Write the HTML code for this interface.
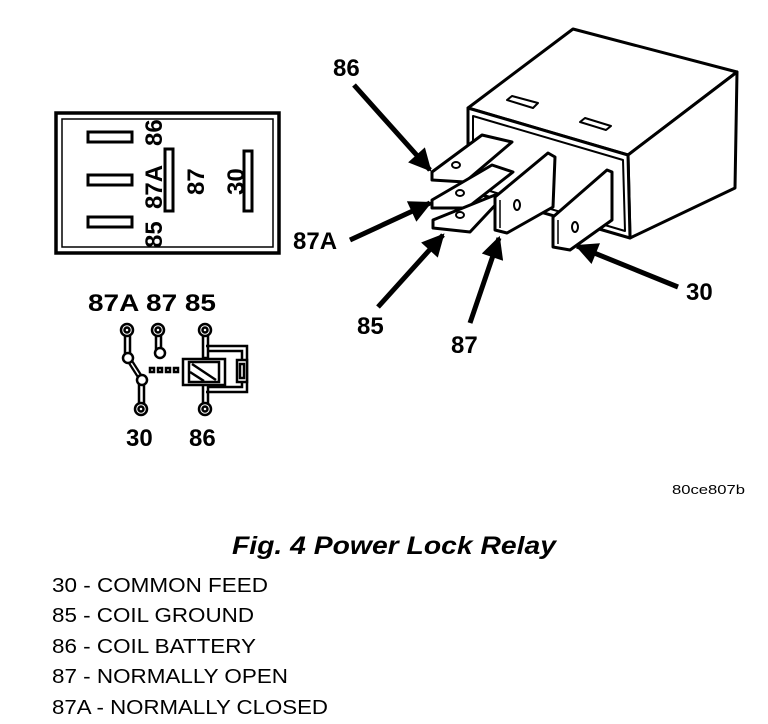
<!DOCTYPE html>
<html><head><meta charset="utf-8"><style>
html,body{margin:0;padding:0;background:#fff;}
svg{display:block;}
text{font-family:"Liberation Sans",sans-serif;fill:#000;}
.b{font-weight:bold;}
</style></head><body>
<svg width="768" height="724" viewBox="0 0 768 724" xmlns="http://www.w3.org/2000/svg">
<!-- left connector face -->
<rect x="56" y="113" width="223" height="140" fill="none" stroke="#000" stroke-width="3.5"/>
<rect x="62" y="119" width="211" height="128" fill="none" stroke="#000" stroke-width="1.5"/>
<g fill="#fff" stroke="#000" stroke-width="3">
<rect x="88" y="132" width="44" height="10"/>
<rect x="88" y="175" width="44" height="10"/>
<rect x="88" y="217" width="44" height="10"/>
<rect x="165" y="149" width="8" height="62"/>
<rect x="244" y="151" width="8" height="60"/>
</g>
<g font-size="24">
<text transform="translate(162,146) rotate(-90)" class="b">86</text>
<text transform="translate(162,209) rotate(-90)" class="b">87A</text>
<text transform="translate(162,248) rotate(-90)" class="b">85</text>
<text transform="translate(204,195) rotate(-90)" class="b">87</text>
<text transform="translate(244,195) rotate(-90)" class="b">30</text>
</g>
<!-- schematic -->
<text x="88" y="311" font-size="24" class="b" textLength="128" lengthAdjust="spacingAndGlyphs">87A 87 85</text>
<text x="126" y="446" font-size="24" class="b">30</text>
<text x="189" y="446" font-size="24" class="b">86</text>
<g stroke="#000" stroke-width="2.5" fill="#fff">
<rect x="125" y="334" width="5" height="22"/>
<rect x="156" y="334" width="5" height="16"/>
<rect x="139" y="384" width="5" height="20"/>
<rect x="203" y="334" width="5" height="24"/>
<rect x="203" y="382" width="5" height="22"/>
<path d="M206,346 H247 V392 H206" fill="none"/>
<path d="M209,351 H242 V387 H209" fill="none"/>
<line x1="128" y1="358" x2="142" y2="380" stroke-width="6"/>
<line x1="128" y1="358" x2="142" y2="380" stroke="#fff" stroke-width="1.5"/>
<circle cx="127" cy="330" r="6"/><circle cx="127" cy="330" r="2.5"/>
<circle cx="158" cy="330" r="6"/><circle cx="158" cy="330" r="2.5"/>
<circle cx="205" cy="330" r="6"/><circle cx="205" cy="330" r="2.5"/>
<circle cx="141" cy="409" r="6"/><circle cx="141" cy="409" r="2.5"/>
<circle cx="205" cy="409" r="6"/><circle cx="205" cy="409" r="2.5"/>
<circle cx="128" cy="358" r="5"/>
<circle cx="160" cy="353" r="5"/>
<circle cx="142" cy="380" r="5"/>
<rect x="150" y="368" width="4" height="4"/>
<rect x="158" y="368" width="4" height="4"/>
<rect x="166" y="368" width="4" height="4"/>
<rect x="174" y="368" width="4" height="4"/>
<rect x="183" y="359" width="42" height="26"/>
<rect x="189" y="362" width="30" height="20"/>
<line x1="192" y1="364" x2="216" y2="380"/>
<line x1="190" y1="372" x2="204" y2="381"/>
<rect x="237" y="360" width="10" height="22"/>
<rect x="240" y="364" width="4" height="14"/>
</g>
<!-- relay body -->
<g stroke="#000" stroke-width="3" fill="#fff" stroke-linejoin="round">
<polygon points="468,108 573,29 737,72 628,155"/>
<polygon points="628,155 737,72 735,188 630,238"/>
<polygon points="468,108 628,155 630,238 468,191"/>
<polygon points="473,116 623,160 625,231 473,186" fill="none" stroke-width="2"/>
<polygon points="507,100 512,96 538,103 533,108" stroke-width="2"/>
<polygon points="580,122 585,118 611,126 606,130" stroke-width="2"/>
<!-- tabs -->
<polygon points="432,172 482,135 512,142 465,182 432,180"/>
<polygon points="432,200 492,165 513,172 467,208 432,208"/>
<polygon points="433,220 495,195 500,200 470,232 433,228"/>
<polygon points="495,197 548,153 555,157 553,207 507,233 495,230"/>
<line x1="500" y1="200" x2="500" y2="228" stroke-width="1.5"/>
<polygon points="553,217 607,170 612,172 612,220 570,250 553,247"/>
<line x1="558" y1="220" x2="558" y2="244" stroke-width="1.5"/>
<ellipse cx="456" cy="165" rx="4" ry="3" stroke-width="2"/>
<ellipse cx="460" cy="193" rx="4" ry="3" stroke-width="2"/>
<ellipse cx="460" cy="215" rx="4" ry="3" stroke-width="2"/>
<ellipse cx="517" cy="205" rx="3" ry="5" stroke-width="2"/>
<ellipse cx="575" cy="227" rx="3" ry="5" stroke-width="2"/>
</g>
<!-- arrows -->
<defs><marker id="ah" viewBox="0 0 10 10" refX="9" refY="5" markerWidth="5" markerHeight="4.5" orient="auto"><path d="M0,0 L10,5 L0,10 z" fill="#000"/></marker></defs>
<g stroke="#000" stroke-width="5" marker-end="url(#ah)">
<line x1="354" y1="85" x2="430" y2="170"/>
<line x1="350" y1="240" x2="430" y2="203"/>
<line x1="378" y1="307" x2="443" y2="235"/>
<line x1="470" y1="323" x2="499" y2="238"/>
<line x1="678" y1="287" x2="577" y2="246"/>
</g>
<g font-size="24">
<text x="333" y="76" class="b">86</text>
<text x="293" y="249" class="b">87A</text>
<text x="357" y="334" class="b">85</text>
<text x="451" y="353" class="b">87</text>
<text x="686" y="300" class="b">30</text>
</g>
<text x="672" y="494" font-size="13" textLength="73" lengthAdjust="spacingAndGlyphs">80ce807b</text>
<text x="232" y="554" font-size="25" font-weight="bold" font-style="italic" textLength="324" lengthAdjust="spacingAndGlyphs">Fig. 4 Power Lock Relay</text>
<g font-size="20">
<text x="52" y="592" textLength="216" lengthAdjust="spacingAndGlyphs">30 - COMMON FEED</text>
<text x="52" y="622" textLength="202" lengthAdjust="spacingAndGlyphs">85 - COIL GROUND</text>
<text x="52" y="653" textLength="204" lengthAdjust="spacingAndGlyphs">86 - COIL BATTERY</text>
<text x="52" y="683" textLength="236" lengthAdjust="spacingAndGlyphs">87 - NORMALLY OPEN</text>
<text x="52" y="714" textLength="276" lengthAdjust="spacingAndGlyphs">87A - NORMALLY CLOSED</text>
</g>
</svg>
</body></html>
